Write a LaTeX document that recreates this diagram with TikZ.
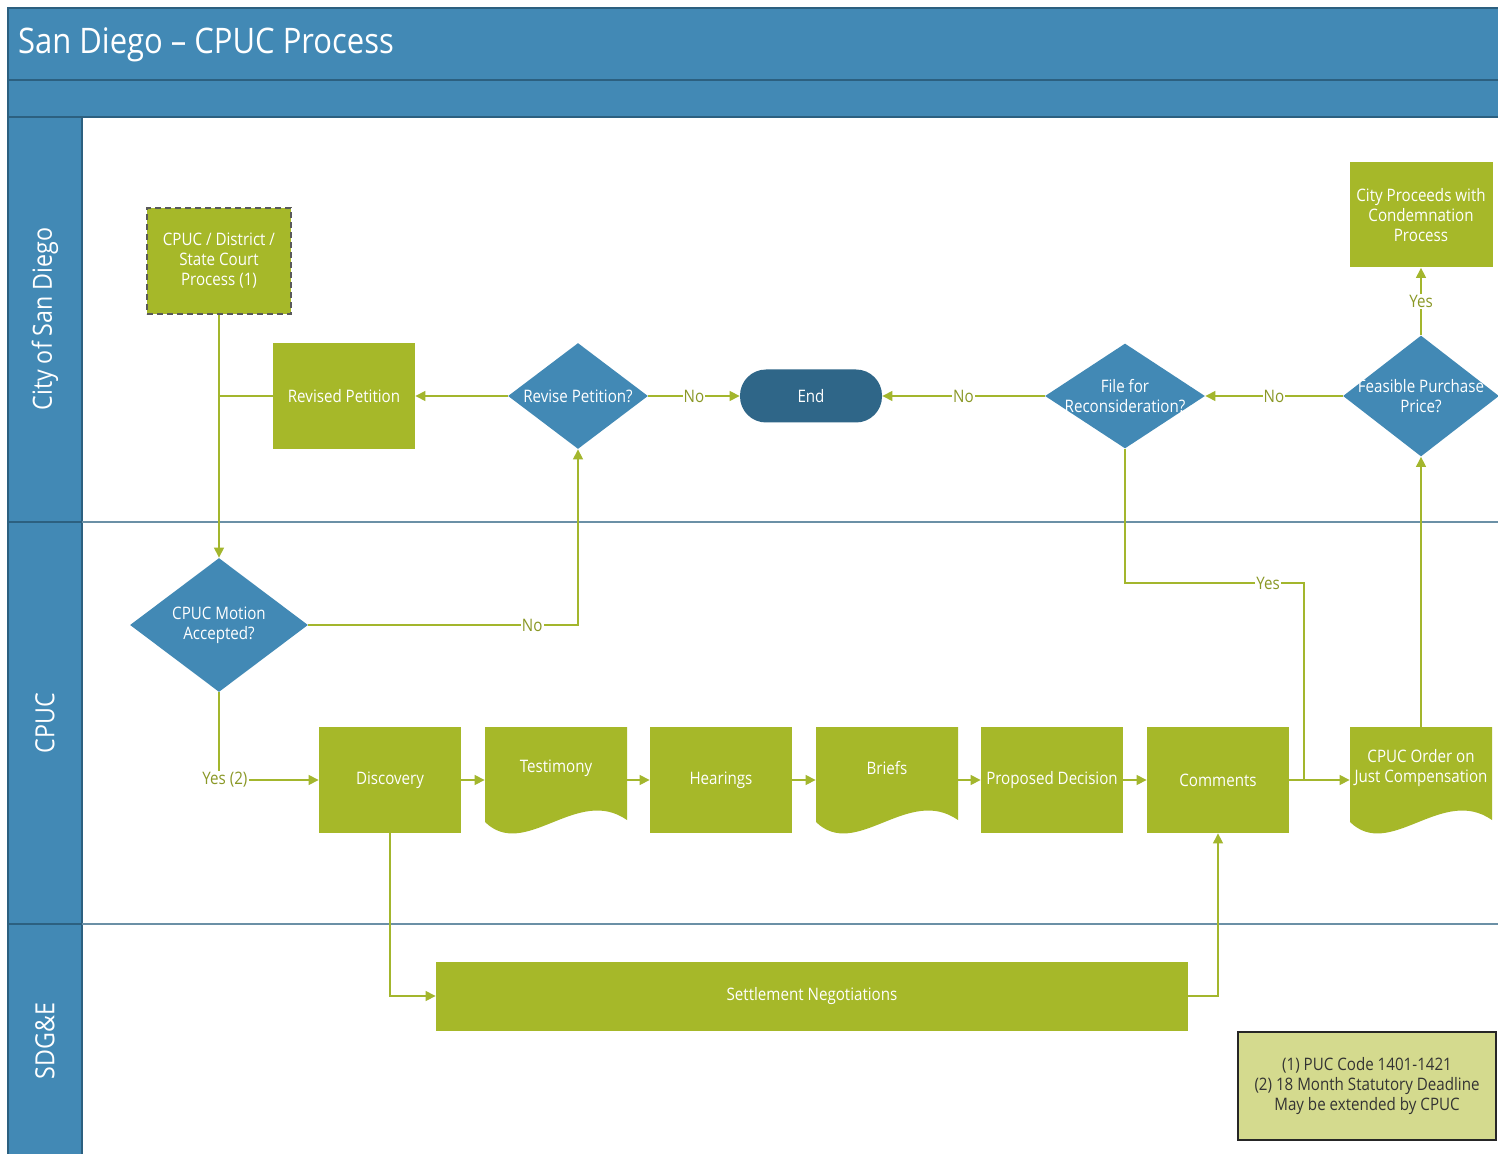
\documentclass[tikz,border=0pt]{standalone}
\usepackage{fontspec}
\setmainfont{Open Sans}[FakeStretch=0.88]
\usetikzlibrary{shapes.geometric,arrows.meta}

\definecolor{laneblue}{RGB}{66,137,181}
\definecolor{laneline}{RGB}{44,96,128}
\definecolor{endblue}{RGB}{47,102,136}
\definecolor{boxgreen}{RGB}{166,184,41}
\definecolor{linkgreen}{RGB}{163,182,45}
\definecolor{labelolive}{RGB}{138,152,38}
\definecolor{notefill}{RGB}{212,218,142}

\begin{document}
\begin{tikzpicture}[x=0.5pt,y=-0.5pt,
    every node/.style={font=\fontsize{8.6}{10}\selectfont},
    process/.style={rectangle,fill=boxgreen,text=white,minimum width=71pt,minimum height=53pt,inner sep=1pt,align=center},
    doc/.style={rectangle,minimum width=71pt,minimum height=53pt,inner sep=0pt,
        path picture={\fill[boxgreen] (path picture bounding box.north west) -- (path picture bounding box.north east)
            -- ([yshift=6.5pt]path picture bounding box.south east)
            .. controls ([xshift=-25pt,yshift=24pt]path picture bounding box.south east) and ([xshift=20pt,yshift=-14pt]path picture bounding box.south west) ..
            ([yshift=5.5pt]path picture bounding box.south west) -- cycle ;},
        label={[text=white,align=center,yshift=6pt]center:#1}},
    decision/.style={diamond,fill=laneblue,inner sep=0pt},
    dectext/.style={text=white,align=center},
    link/.style={draw=linkgreen,line width=0.6pt},
    arr/.style={link,-{Triangle[length=5pt,width=5pt]}},
    cond/.style={fill=white,text=labelolive,inner sep=0.6pt},
    lanetitle/.style={text=white,rotate=90,font=\fontsize{13.2}{15}\selectfont}
]
\useasboundingbox (0,0) rectangle (1498,1154) ;

\fill[white] (0,0) rectangle (1498,1154) ;
\fill[laneblue] (8,8) rectangle (1498,117) ;
\fill[laneblue] (8,117) rectangle (82,1154) ;
\draw[laneline,line width=0.6pt] (8,1154) -- (8,8) -- (1498,8) ;
\draw[laneline,line width=0.6pt] (8,80) -- (1498,80) ;
\draw[laneline,line width=0.6pt] (8,117) -- (1498,117) ;
\draw[laneline,line width=0.6pt] (82,117) -- (82,1154) ;
\draw[laneline,line width=0.6pt] (8,522) -- (82,522) ;
\draw[laneline,line width=0.6pt] (8,924) -- (82,924) ;
\draw[laneline!70,line width=0.6pt] (82,522) -- (1498,522) ;
\draw[laneline!70,line width=0.6pt] (82,924) -- (1498,924) ;

\node[anchor=west,text=white,font=\fontsize{17.6}{20}\selectfont] (title) at (11,45) {San Diego -- CPUC Process} ;
\node[lanetitle] (citylane) at (45,319) {City of San Diego} ;
\node[lanetitle] (cpuclane) at (45,723) {CPUC} ;
\node[lanetitle] (sdgelane) at (45,1041) {SDG\&E} ;

\node[process,draw=black!65,dashed,dash pattern=on 3pt off 2pt,line width=0.7pt,minimum width=72pt] (court) at (219,261) {CPUC / District /\\State Court\\Process (1)} ;
\node[process] (revised) at (344,396) {Revised Petition} ;
\node[decision,minimum width=70pt,minimum height=53pt,label={[dectext]center:Revise Petition?}] (revq) at (578,396) {} ;
\node[rectangle,rounded corners=13pt,fill=endblue,text=white,minimum width=71pt,minimum height=26.5pt] (end) at (811,396) {End} ;
\node[decision,minimum width=80pt,minimum height=52.5pt,label={[dectext]center:File for\\Reconsideration?}] (recon) at (1125,396) {} ;
\node[decision,minimum width=78pt,minimum height=60.5pt,label={[dectext]center:Feasible Purchase\\Price?}] (feas) at (1421,396) {} ;
\node[process,minimum width=71.5pt,minimum height=52.5pt] (city) at (1421,215) {City Proceeds with\\Condemnation\\Process} ;

\node[decision,minimum width=89pt,minimum height=67pt,label={[dectext]center:CPUC Motion\\Accepted?}] (motion) at (219,625) {} ;

\node[process] (disc) at (390,780) {Discovery} ;
\node[doc=Testimony] (test) at (556,780) {} ;
\node[process] (hear) at (721,780) {Hearings} ;
\node[doc=Briefs] (brief) at (887,780) {} ;
\node[process] (prop) at (1052,780) {Proposed Decision} ;
\node[process] (comm) at (1218,780) {Comments} ;
\node[doc={CPUC Order on\\Just Compensation}] (order) at (1421,780) {} ;

\node[process,minimum width=376pt,minimum height=34.5pt] (settle) at (812,996) {Settlement Negotiations} ;

\node[draw=black!85,fill=notefill,text=black!80,line width=0.6pt,minimum width=129pt,minimum height=54pt,align=center] (note) at (1367,1086) {(1) PUC Code 1401-1421\\(2) 18 Month Statutory Deadline\\May be extended by CPUC} ;

\coordinate (yesturn) at (1304,583) ;
\coordinate (join) at (1304,780) ;

\draw[arr] (court) -- (motion) ;
\draw[link] (revised.west) -- (revised.west -| court.south) ;
\draw[arr] (revq.west) -- (revised.east) ;
\draw[arr] (revq.east) -- node[cond]{No} (end.west) ;
\draw[arr] (recon.west) -- node[cond]{No} (end.east) ;
\draw[arr] (feas.west) -- node[cond]{No} (recon.east) ;
\draw[arr] (feas.north) -- node[cond]{Yes} (city.south) ;
\draw[arr] (motion.east) -| node[cond,pos=0.415]{No} (revq.south) ;
\draw[arr] (motion.south) |- node[cond,pos=0.53]{Yes (2)} (disc.west) ;
\draw[arr] (disc) -- (test) ;
\draw[arr] (test) -- (hear) ;
\draw[arr] (hear) -- (brief) ;
\draw[arr] (brief) -- (prop) ;
\draw[arr] (prop) -- (comm) ;
\draw[arr] (comm) -- (order) ;
\draw[link] (recon.south) |- node[cond,pos=0.9]{Yes} (yesturn) -- (join) ;
\draw[arr] (order.north) -- (feas.south) ;
\draw[arr] (disc.south) |- (settle.west) ;
\draw[arr] (settle.east) -| (comm.south) ;

\end{tikzpicture}
\end{document}
